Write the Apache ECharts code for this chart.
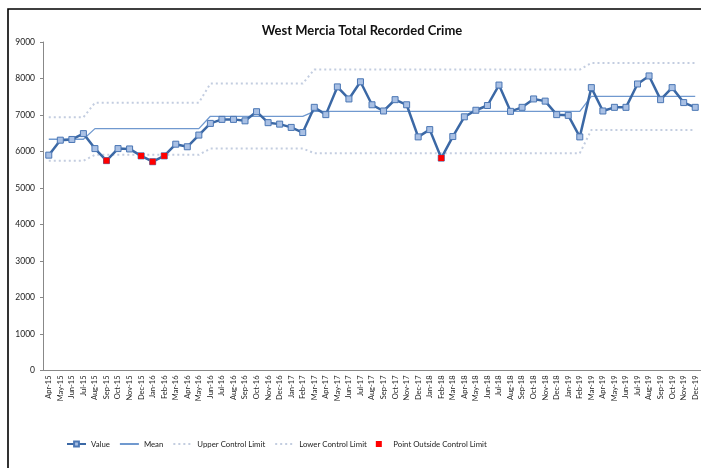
<!DOCTYPE html>
<html>
<head>
<meta charset="utf-8">
<script src="https://cdn.jsdelivr.net/npm/echarts@6/dist/echarts.min.js"></script>
<style>
  html, body { margin: 0; padding: 0; background: #fff; }
  #chart { width: 701px; height: 468px; }
</style>
</head>
<body>
<div id="chart"></div>
<script>
// months on the x axis
var months = [
  'Apr-15', 'May-15', 'Jun-15', 'Jul-15', 'Aug-15', 'Sep-15', 'Oct-15', 'Nov-15', 'Dec-15',
  'Jan-16', 'Feb-16', 'Mar-16', 'Apr-16', 'May-16', 'Jun-16', 'Jul-16', 'Aug-16', 'Sep-16', 'Oct-16', 'Nov-16', 'Dec-16',
  'Jan-17', 'Feb-17', 'Mar-17', 'Apr-17', 'May-17', 'Jun-17', 'Jul-17', 'Aug-17', 'Sep-17', 'Oct-17', 'Nov-17', 'Dec-17',
  'Jan-18', 'Feb-18', 'Mar-18', 'Apr-18', 'May-18', 'Jun-18', 'Jul-18', 'Aug-18', 'Sep-18', 'Oct-18', 'Nov-18', 'Dec-18',
  'Jan-19', 'Feb-19', 'Mar-19', 'Apr-19', 'May-19', 'Jun-19', 'Jul-19', 'Aug-19', 'Sep-19', 'Oct-19', 'Nov-19', 'Dec-19'
];

// recorded crime per month
var values = [
  5900, 6310, 6330, 6490, 6080, 5750, 6080, 6070, 5880,
  5720, 5880, 6200, 6130, 6450, 6770, 6880, 6880, 6840, 7090, 6790, 6750,
  6660, 6520, 7210, 7010, 7770, 7440, 7910, 7280, 7110, 7420, 7280, 6400,
  6600, 5820, 6410, 6950, 7130, 7260, 7820, 7100, 7210, 7440, 7380, 7010,
  6990, 6400, 7750, 7110, 7210, 7210, 7850, 8070, 7420, 7750, 7340, 7210
];

// control chart phases: [number of months, mean, upper limit, lower limit]
var phases = [
  [4, 6336, 6936, 5745],
  [10, 6627, 7336, 5909],
  [9, 6965, 7863, 6082],
  [24, 7100, 8245, 5954],
  [10, 7509, 8427, 6590]
];

var yTicks = [0, 1000, 2000, 3000, 4000, 5000, 6000, 7000, 8000, 9000];

// expand the phases to one value per month
var mean = [], upper = [], lower = [];
phases.forEach(function (p) {
  for (var i = 0; i < p[0]; i++) {
    mean.push(p[1]);
    upper.push(p[2]);
    lower.push(p[3]);
  }
});

// points outside the limits of their phase
var outside = values.map(function (v, i) {
  return (v > upper[i] || v < lower[i]) ? [months[i], v] : null;
}).filter(function (d) { return d; });

var font = 'Lato, "Liberation Sans", sans-serif';
var noMarker = { color: 'rgba(0,0,0,0)' };

var chart = echarts.init(document.getElementById('chart'));
chart.setOption({
  animation: false,
  backgroundColor: '#fff',
  textStyle: { fontFamily: font },
  title: {
    text: 'West Mercia Total Recorded Crime',
    left: 357,
    top: 19,
    textAlign: 'center',
    textStyle: { fontSize: 13, fontWeight: 'bold', color: '#111', fontFamily: font }
  },
  graphic: [{
    type: 'rect',
    shape: { x: 8, y: 9, width: 900, height: 700 },
    style: { fill: 'none', stroke: '#000', lineWidth: 1.6 },
    silent: true
  }],
  legend: {
    left: 61,
    top: 435,
    itemWidth: 19,
    itemHeight: 6,
    itemGap: 9,
    textStyle: { fontSize: 7.8, color: '#222', fontFamily: font },
    data: [
      'Value',
      'Mean',
      'Upper Control Limit',
      'Lower Control Limit',
      { name: 'Point Outside Control Limit', icon: 'path://M0,0h1v1h-1z' }
    ]
  },
  grid: { left: 43, right: -2, top: 42, bottom: 97.5 },
  xAxis: {
    type: 'category',
    data: months,
    boundaryGap: true,
    axisLine: { lineStyle: { color: '#888', width: 1 } },
    axisTick: { show: false },
    axisLabel: {
      rotate: 90,
      interval: 0,
      margin: 5,
      fontSize: 7.5,
      color: '#222',
      fontFamily: font
    }
  },
  yAxis: {
    type: 'value',
    min: yTicks[0],
    max: yTicks[yTicks.length - 1],
    interval: 1000,
    splitLine: { show: false },
    axisLine: { show: true, lineStyle: { color: '#888', width: 1 } },
    axisTick: { show: true, length: 3, lineStyle: { color: '#888' } },
    axisLabel: {
      fontSize: 8.5,
      color: '#222',
      margin: 8,
      fontFamily: font,
      formatter: function (v) { return String(v); }
    }
  },
  series: [
    {
      name: 'Value',
      type: 'line',
      data: values,
      symbol: 'rect',
      symbolSize: 6,
      lineStyle: { color: '#3b68a5', width: 2.5 },
      itemStyle: { color: '#a9c0e4', borderColor: '#4a76b4', borderWidth: 1 },
      z: 3
    },
    {
      name: 'Mean',
      type: 'line',
      data: mean,
      symbol: 'none',
      lineStyle: { color: '#7099cf', width: 1.3 },
      itemStyle: noMarker,
      z: 2
    },
    {
      name: 'Upper Control Limit',
      type: 'line',
      data: upper,
      symbol: 'none',
      lineStyle: { color: '#c3cde0', width: 2, type: [2, 3] },
      itemStyle: noMarker,
      z: 1
    },
    {
      name: 'Lower Control Limit',
      type: 'line',
      data: lower,
      symbol: 'none',
      lineStyle: { color: '#c3cde0', width: 2, type: [2, 3] },
      itemStyle: noMarker,
      z: 1
    },
    {
      name: 'Point Outside Control Limit',
      type: 'scatter',
      data: outside,
      symbol: 'rect',
      symbolSize: 6,
      itemStyle: { color: '#ff0000', opacity: 1 },
      z: 4
    }
  ]
});
</script>
</body>
</html>
